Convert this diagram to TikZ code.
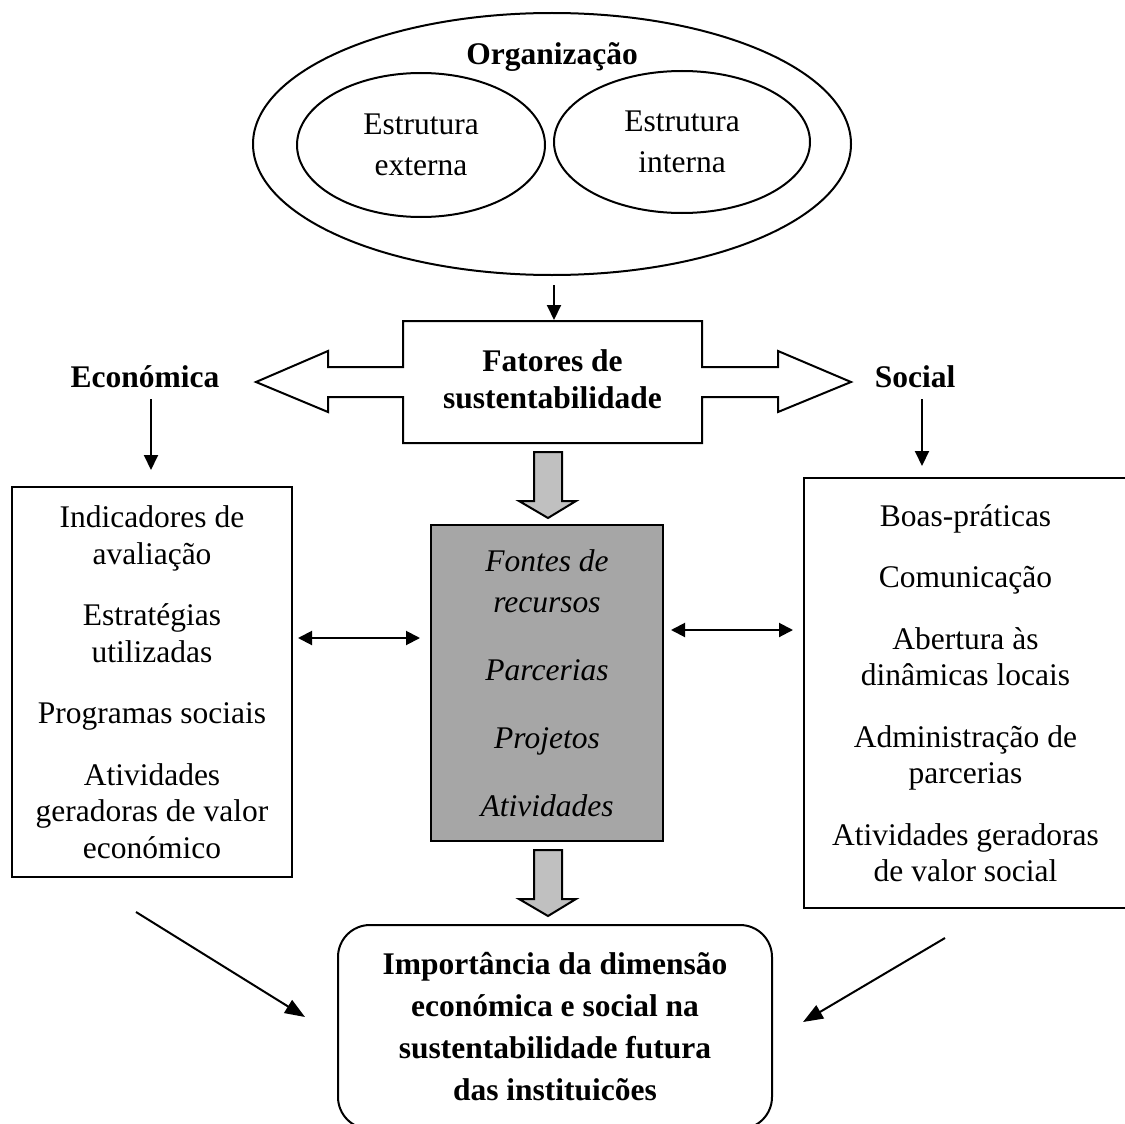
\documentclass[tikz,border=0pt]{standalone}
\usepackage{fontspec}
\setmainfont{Liberation Serif}
\usetikzlibrary{shapes.geometric,arrows.meta}
\definecolor{boxgray}{HTML}{A6A6A6}
\definecolor{arrgray}{HTML}{C0C0C0}
\begin{document}
\begin{tikzpicture}[x=1pt,y=-1pt,
  every node/.style={inner sep=0pt, align=center},
  txt/.style={font=\fontsize{31.5}{36.5}\selectfont},
  btxt/.style={font=\fontsize{31.5}{37}\selectfont\bfseries},
  ln/.style={line width=2pt},
  arr/.style={line width=2pt,-{Triangle[length=15pt,width=14pt]}},
  barr/.style={line width=2pt,{Triangle[length=14pt,width=14pt]}-{Triangle[length=14pt,width=14pt]}},
  darr/.style={line width=2pt,-{Triangle[length=20pt,width=15pt]}},
  ell/.style={draw, ln, ellipse, font=\fontsize{31.5}{41}\selectfont},
  sbox/.style={draw, ln, txt},
  blockarrow/.style={draw, ln, fill=arrgray, line join=miter}
]
\useasboundingbox (0,0) rectangle (1125,1124);

% Organization ellipses
\node[ell, minimum width=598pt, minimum height=262pt] (org) at (552,144) {};
\node[btxt] (orgt) at (552,57) {Organização};
\node[ell, minimum width=248pt, minimum height=144pt] (ext) at (421,145) {Estrutura\\externa};
\node[ell, minimum width=256pt, minimum height=142pt] (int) at (682,142) {Estrutura\\interna};

% Fatores box with double block arrow
\draw[ln, fill=white, line join=miter]
  (403,321) -- (702,321) -- (702,367) -- (778,367) -- (778,351) -- (851,382)
  -- (778,412) -- (778,397) -- (702,397) -- (702,443) -- (403,443) -- (403,397)
  -- (328,397) -- (328,412) -- (256,382) -- (328,351) -- (328,367) -- (403,367) -- cycle;
\node[btxt, minimum width=299pt, minimum height=122pt] (fat) at (552.5,379) {Fatores de\\sustentabilidade};

\coordinate (oa) at (554,285);
\coordinate (ob) at (554,320);
\draw[arr] (oa) -- (ob);

% side labels
\node[btxt] (eco) at (145,377) {Económica};
\node[btxt] (soc) at (915,377) {Social};
\coordinate (ea) at (151,399);
\coordinate (eb) at (151,470);
\draw[arr] (ea) -- (eb);
\coordinate (sa) at (922,399);
\coordinate (sb) at (922,466);
\draw[arr] (sa) -- (sb);

% left box
\node[sbox, minimum width=280pt, minimum height=390pt] (lbox) at (152,682)
  {Indicadores de\\avaliação\\[25pt]Estratégias\\utilizadas\\[25pt]Programas sociais\\[25pt]Atividades\\geradoras de valor\\económico};

% right box
\node[sbox, minimum width=323pt, minimum height=430pt] (rbox) at (965.5,693)
  {Boas-práticas\\[25pt]Comunicação\\[25pt]Abertura às\\dinâmicas locais\\[25pt]Administração de\\parcerias\\[25pt]Atividades geradoras\\de valor social};

% gray center box
\node[draw, ln, fill=boxgray, minimum width=232pt, minimum height=316pt,
      font=\fontsize{31.5}{41}\selectfont\itshape] (gbox) at (547,683)
  {Fontes de\\recursos\\[27pt]Parcerias\\[27pt]Projetos\\[27pt]Atividades};

% gray block arrows
\draw[blockarrow] (534,452) -- (562,452) -- (562,501) -- (576,501) -- (548,518) -- (519,501) -- (534,501) -- cycle;
\draw[blockarrow] (534,850) -- (562,850) -- (562,899) -- (576,899) -- (548,916) -- (519,899) -- (534,899) -- cycle;

% bidirectional arrows
\coordinate (l1) at (298,638);
\coordinate (l2) at (420,638);
\draw[barr] (l1) -- (l2);
\coordinate (r1) at (671,630);
\coordinate (r2) at (793,630);
\draw[barr] (r1) -- (r2);

% bottom box
\node[draw, ln, rounded corners=32pt, minimum width=434pt, minimum height=204pt,
      font=\fontsize{31.5}{42}\selectfont\bfseries] (bot) at (555,1027)
  {Importância da dimensão\\económica e social na\\sustentabilidade futura\\das instituicões};

% diagonal arrows
\coordinate (dl1) at (136,912);
\coordinate (dl2) at (305,1017);
\draw[darr] (dl1) -- (dl2);
\coordinate (dr1) at (945,938);
\coordinate (dr2) at (803,1022);
\draw[darr] (dr1) -- (dr2);
\end{tikzpicture}
\end{document}
